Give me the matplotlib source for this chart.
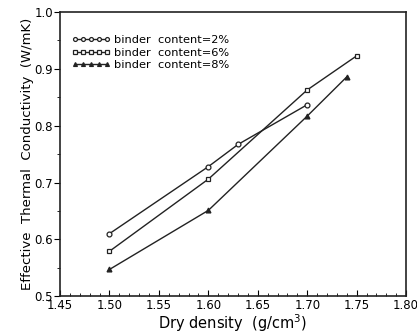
import matplotlib
matplotlib.use('Agg')
from matplotlib import pyplot as plt
from matplotlib.ticker import MultipleLocator

# binder content series (dry density g/cm3, effective thermal conductivity W/mK)
density_2 = [1.50, 1.60, 1.63, 1.70]
cond_2 = [0.610, 0.728, 0.767, 0.837]

density_6 = [1.50, 1.60, 1.70, 1.75]
cond_6 = [0.579, 0.706, 0.863, 0.923]

density_8 = [1.50, 1.60, 1.70, 1.74]
cond_8 = [0.547, 0.651, 0.817, 0.886]

labels = ['binder  content=2%', 'binder  content=6%', 'binder  content=8%']

fig = plt.figure(figsize=(4.17, 3.35), dpi=100)
ax = fig.add_axes([0.144, 0.116, 0.830, 0.848])

line_kw = dict(color='#222222', lw=1.0, markersize=3.5, markeredgewidth=0.9)
ax.plot(density_2, cond_2, marker='o', mfc='white', label=labels[0], **line_kw)
ax.plot(density_6, cond_6, marker='s', mfc='white', label=labels[1], **line_kw)
ax.plot(density_8, cond_8, marker='^', mfc='#222222', label=labels[2], **line_kw)

ax.set_xlim(1.45, 1.80)
ax.set_ylim(0.5, 1.0)
ax.xaxis.set_major_locator(MultipleLocator(0.05))
ax.xaxis.set_minor_locator(MultipleLocator(0.01))
ax.yaxis.set_major_locator(MultipleLocator(0.1))
ax.yaxis.set_minor_locator(MultipleLocator(0.05))
ax.xaxis.set_major_formatter(matplotlib.ticker.FormatStrFormatter('%.2f'))
ax.yaxis.set_major_formatter(matplotlib.ticker.FormatStrFormatter('%.1f'))

ax.tick_params(axis='x', which='both', direction='in', labelsize=8.5, pad=2)
ax.tick_params(axis='x', which='major', length=4)
ax.tick_params(axis='x', which='minor', length=2.5)
ax.tick_params(axis='y', which='both', direction='out', labelsize=8.5, pad=1)
ax.tick_params(axis='y', which='major', length=4)
ax.tick_params(axis='y', which='minor', length=2)
for s in ax.spines.values():
    s.set_linewidth(1.2)
    s.set_color('#222222')

ax.set_xlabel('Dry density  (g/cm$^3$)', fontsize=10.5, labelpad=0)
ax.set_ylabel('Effective  Thermal  Conductivity  (W/mK)', fontsize=9.5, labelpad=0)

ax.legend(loc='upper left', bbox_to_anchor=(0.01, 0.947), frameon=False,
          fontsize=8.2, numpoints=5, handlelength=3.4, handletextpad=0.3,
          labelspacing=0.22, borderaxespad=0.3, markerscale=0.8)

fig.savefig('out.png', dpi=100)
